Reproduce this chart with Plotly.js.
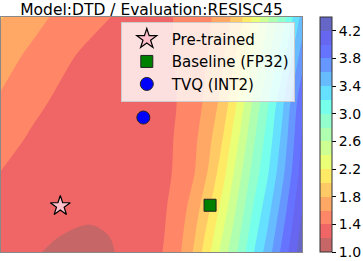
<!DOCTYPE html>
<html>
<head>
<meta charset="utf-8">
<script src="https://cdn.plot.ly/plotly-3.0.1.min.js"></script>
<style>html,body{margin:0;padding:0;background:#fff;}#chart{width:363px;height:261px;}</style>
</head>
<body>
<div id="chart"></div>
<script>
// Grid coordinates of the loss/accuracy landscape
const xGrid = [-0.4, -0.2, 0, 0.2, 0.4, 0.6, 0.7, 0.8, 0.9, 1.0, 1.1, 1.2, 1.3, 1.4, 1.5, 1.63];
const yGrid = [-0.3067, -0.2, -0.1, 0, 0.23, 0.45, 0.7, 1.0, 1.26];
// z values, one row per yGrid entry (bottom to top)
const zRow0 = [1.33, 1.225, 1.16, 1.15, 1.21, 1.32, 1.41, 1.56, 1.82, 2.15, 2.5, 2.825, 3.178, 3.5, 3.867, 4.325];
const zRow1 = [1.35, 1.27, 1.20, 1.17, 1.217, 1.31, 1.398, 1.537, 1.772, 2.083, 2.427, 2.762, 3.116, 3.436, 3.804, 4.278];
const zRow2 = [1.36, 1.29, 1.24, 1.21, 1.23, 1.30, 1.387, 1.515, 1.728, 2.021, 2.358, 2.703, 3.057, 3.376, 3.744, 4.234];
const zRow3 = [1.37, 1.31, 1.26, 1.24, 1.25, 1.30, 1.376, 1.494, 1.683, 1.959, 2.289, 2.644, 2.999, 3.316, 3.685, 4.19];
const zRow4 = [1.398, 1.33, 1.29, 1.27, 1.27, 1.29, 1.35, 1.445, 1.582, 1.817, 2.133, 2.511, 2.867, 3.18, 3.55, 4.09];
const zRow5 = [1.49, 1.377, 1.32, 1.29, 1.28, 1.29, 1.355, 1.427, 1.553, 1.741, 2.015, 2.38, 2.754, 3.086, 3.462, 4.025];
const zRow6 = [1.577, 1.464, 1.36, 1.32, 1.30, 1.30, 1.36, 1.407, 1.519, 1.653, 1.88, 2.229, 2.625, 2.978, 3.36, 3.95];
const zRow7 = [1.68, 1.565, 1.45, 1.35, 1.33, 1.32, 1.36, 1.419, 1.509, 1.61, 1.785, 2.055, 2.413, 2.766, 3.116, 3.696];
const zRow8 = [1.81, 1.673, 1.557, 1.465, 1.373, 1.34, 1.357, 1.429, 1.5, 1.571, 1.7, 1.9, 2.225, 2.578, 2.9, 3.47];

// Marker points
const pointNames = ['Pre-trained', 'Baseline (FP32)', 'TVQ (INT2)'];
const pointX = [0, 1.01, 0.56];
const pointY = [0, 0.005, 0.59];

// Contour levels and colorbar ticks
const levelMin = 1.0, levelMax = 4.4, levelStep = 0.2;
const cbTicks = [1.0, 1.4, 1.8, 2.2, 2.6, 3.0, 3.4, 3.8, 4.2];

// Band colours (jet_r at alpha 0.6 over white), bands 1.0-1.2 ... 4.2-4.4
const bandColors = ['rgb(199,102,102)','rgb(240,102,102)','rgb(255,134,102)','rgb(255,168,102)',
  'rgb(255,201,102)','rgb(255,234,102)','rgb(234,255,118)','rgb(205,255,147)','rgb(176,255,176)',
  'rgb(147,255,205)','rgb(118,255,234)','rgb(102,224,255)','rgb(102,188,255)','rgb(102,151,255)',
  'rgb(102,115,255)','rgb(102,102,240)','rgb(102,102,199)'];

const nb = bandColors.length;
// stepwise scale over [levelMin, levelMax] (for heatmap / colorbar)
const stepScale = [];
bandColors.forEach((c, i) => { stepScale.push([i / nb, c]); stepScale.push([(i + 1) / nb, c]); });
// contour fill scale: plotly samples region i (region 0 = below first level) at i/(nLevels)
const fillColors = [bandColors[0]].concat(bandColors, [bandColors[nb - 1]]);
const nf = fillColors.length - 1;
const fillScale = [];
fillColors.forEach((c, i) => {
  fillScale.push([Math.max(0, (i - 0.5) / nf), c]); fillScale.push([Math.min(1, (i + 0.5) / nf), c]);
});

const zData = [zRow0, zRow1, zRow2, zRow3, zRow4, zRow5, zRow6, zRow7, zRow8];

const font = 'DejaVu Sans, Arial, sans-serif';

const traces = [
  {
    // same field as a heatmap underneath; it carries the colour bar
    type: 'heatmap', x: xGrid, y: yGrid, z: zData, zsmooth: 'best',
    zmin: levelMin, zmax: levelMax, colorscale: stepScale, hoverinfo: 'skip', showlegend: false,
    colorbar: {
      x: 1.059, xanchor: 'left', xpad: 0, ypad: 0,
      y: 0.5, yanchor: 'middle', yref: 'paper',
      thickness: 12, thicknessmode: 'pixels', len: 235, lenmode: 'pixels',
      outlinewidth: 1, outlinecolor: '#333',
      ticks: 'outside', ticklen: 4, tickwidth: 1, tickcolor: '#000',
      tickmode: 'array', tickvals: cbTicks, ticktext: cbTicks.map(v => v.toFixed(1)),
      tickfont: {family: font, size: 14, color: '#000'}
    }
  },
  {
    type: 'contour', x: xGrid, y: yGrid, z: zData,
    autocontour: false,
    contours: {start: levelMin, end: levelMax, size: levelStep, coloring: 'fill', showlines: false},
    line: {width: 0},
    colorscale: fillScale, showscale: false,
    showlegend: false, hoverinfo: 'skip'
  },
  {
    type: 'scatter', mode: 'markers', name: pointNames[0], x: [pointX[0]], y: [pointY[0]],
    marker: {symbol: 'star', size: 15, color: '#ffc0cb', line: {color: '#000', width: 1.2}}
  },
  {
    type: 'scatter', mode: 'markers', name: pointNames[1], x: [pointX[1]], y: [pointY[1]],
    marker: {symbol: 'square', size: 12, color: '#008000', line: {color: '#222', width: 1}}
  },
  {
    type: 'scatter', mode: 'markers', name: pointNames[2], x: [pointX[2]], y: [pointY[2]],
    marker: {symbol: 'circle', size: 13, color: '#0000ff', line: {color: '#222', width: 1}}
  }
];

const axisCommon = {showticklabels: false, ticks: '', showgrid: false, zeroline: false,
  showline: true, linecolor: '#888', linewidth: 1, mirror: true};

const layout = {
  width: 363, height: 261,
  margin: {l: 1, r: 58, t: 17, b: 9, pad: 0},
  paper_bgcolor: '#fff', plot_bgcolor: '#fff',
  title: {text: 'Model:DTD / Evaluation:RESISC45', font: {family: font, size: 15.5, color: '#000'},
    x: 0.5, xref: 'paper', xanchor: 'center', y: 0.963, yref: 'container', yanchor: 'middle'},
  xaxis: Object.assign({range: [-0.4, 1.63]}, axisCommon),
  yaxis: Object.assign({range: [-0.3067, 1.26]}, axisCommon),
  showlegend: true,
  legend: {x: 0.398, xanchor: 'left', y: 0.98, yanchor: 'top',
    bgcolor: 'rgba(255,255,255,0.8)', bordercolor: '#ccc', borderwidth: 1,
    font: {family: font, size: 15, color: '#000'}, itemwidth: 40}
};

Plotly.newPlot('chart', traces, layout, {displayModeBar: false, staticPlot: true});
</script>
</body>
</html>
